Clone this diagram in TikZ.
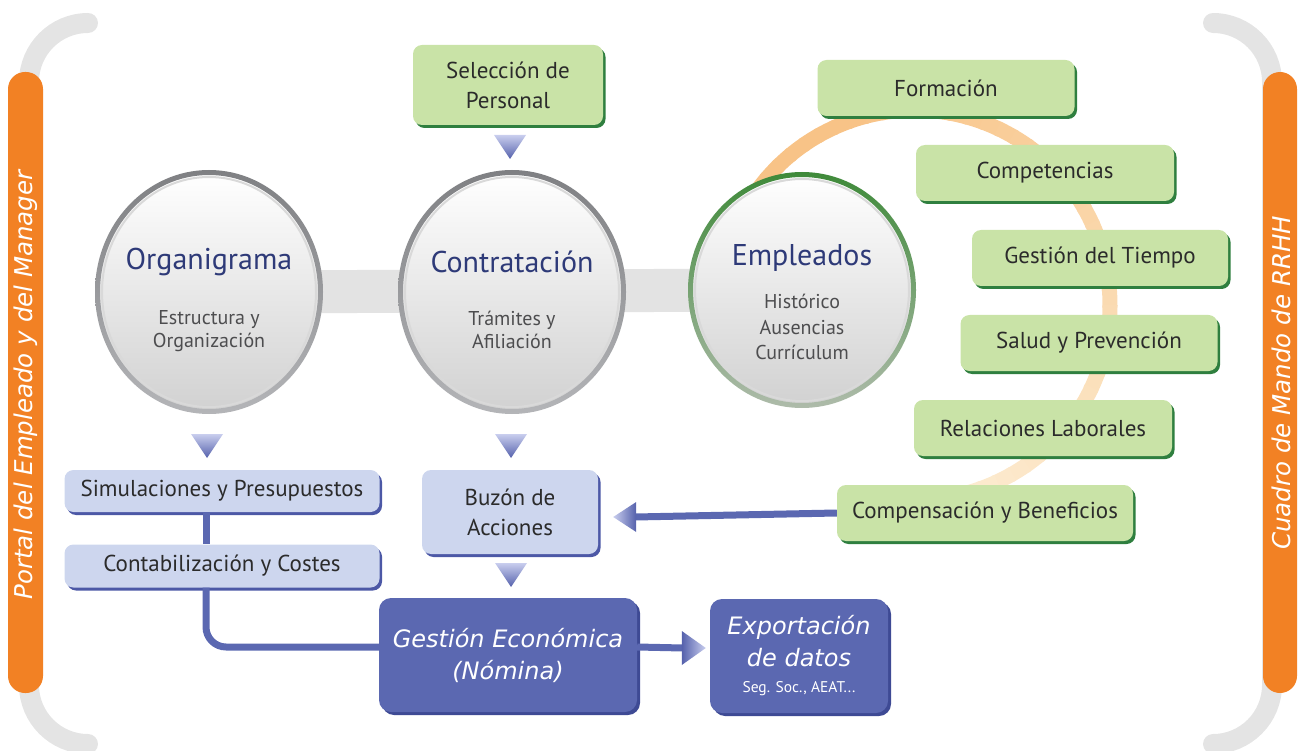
\documentclass[tikz,border=0pt]{standalone}
\usepackage{fontspec}
\setmainfont{PT Sans}
\newfontfamily\hand{DejaVu Sans}
\usetikzlibrary{shadows,calc}
\definecolor{orangeb}{HTML}{F28124}
\definecolor{grayarc}{HTML}{E4E4E4}
\definecolor{boxgreen}{HTML}{C9E3A7}
\definecolor{shgreen}{HTML}{2F7F3F}
\definecolor{boxblue}{HTML}{CDD6EE}
\definecolor{shblue}{HTML}{4C58A6}
\definecolor{darkblue}{HTML}{5B68B1}
\definecolor{shdark}{HTML}{3E4A94}
\definecolor{navy}{HTML}{2E3A78}
\definecolor{txt}{HTML}{2B2B2B}
\definecolor{subc}{HTML}{4D4D4F}
\definecolor{ringA}{HTML}{7F8083}
\definecolor{ringB}{HTML}{B4B5B8}
\definecolor{greenA}{HTML}{3F8A3A}
\definecolor{greenB}{HTML}{AEBBAA}
\definecolor{arcA}{HTML}{F8C387}
\definecolor{arcB}{HTML}{FCEBD0}
\definecolor{triA}{HTML}{C9CEEE}
\definecolor{triB}{HTML}{5561AC}
\definecolor{barg}{HTML}{E3E3E3}
\tikzset{
  boxfont/.style={font=\fontsize{23}{30}\selectfont},
  gbox/.style={boxfont, rounded corners=9, fill=boxgreen, text=txt, align=center, inner sep=0pt,
    general shadow={fill=shgreen, shadow xshift=2.5pt, shadow yshift=-3pt}},
  bbox/.style={boxfont, rounded corners=9, fill=boxblue, text=txt, align=center, inner sep=0pt,
    general shadow={fill=shblue, shadow xshift=2.5pt, shadow yshift=-3pt}},
  dbox/.style={rounded corners=12, fill=darkblue, text=white, align=center, inner sep=0pt,
    general shadow={fill=shdark, shadow xshift=3pt, shadow yshift=-3pt}},
  conn/.style={darkblue, line width=7},
  ctitle/.style={text=navy, font=\fontsize{30}{32}\selectfont},
  csub/.style={text=subc, align=center, font=\fontsize{20}{23}\selectfont},
  sidetext/.style={rotate=90, text=white, font=\hand\itshape\fontsize{24.5}{26}\selectfont},
}
\begin{document}
\begin{tikzpicture}[x=1pt,y=-1pt]
\useasboundingbox (0,0) rectangle (1301,751);
% gray brackets
\draw[grayarc, line width=20, line cap=round] (88,23) arc[start angle=270, end angle=180, radius=59] -- (29,685) arc[start angle=180, end angle=90, radius=59];
\draw[grayarc, line width=20, line cap=round] (1213,23) arc[start angle=270, end angle=360, radius=59] -- (1272,685) arc[start angle=0, end angle=90, radius=59];
% orange bars
\fill[orangeb, rounded corners=17] (8,72) rectangle (43,693);
\fill[orangeb, rounded corners=17] (1263,72) rectangle (1297,693);
\node[sidetext] (lefttxt) at (26,385) {Portal del Empleado y del Manager};
\node[sidetext] (righttxt) at (1281,383) {Cuadro de Mando de RRHH};
% orange arc
\foreach \a in {205,210,...,435} {
  \pgfmathsetmacro\p{max(0,min(100,100-(\a-250)*0.55))}
  \draw[line width=15, color=arcA!\p!arcB] ([shift={(\a:195)}]915,305) arc[start angle=\a, end angle=\a+5.8, radius=195];
}
% circles (named anchors)
\coordinate (org) at (209,292);
\coordinate (con) at (512,292);
\coordinate (emp) at (802,290);
\draw[barg, line width=43] (org) -- (emp);
\foreach \c/\ra/\rb in {org/ringA/ringB, con/ringA/ringB} {
  \shade[top color=white, bottom color=black!18] (\c) ellipse [x radius=112, y radius=120];
  \shade[top color=\ra, bottom color=\rb, even odd rule] (\c) ellipse [x radius=114, y radius=122] (\c) ellipse [x radius=109, y radius=117];
  \draw[white!70!gray, line width=2] (\c) ellipse [x radius=107, y radius=115];
}
\shade[top color=white, bottom color=black!18] (emp) ellipse [x radius=112, y radius=116];
\shade[top color=greenA, bottom color=greenB, even odd rule] (emp) ellipse [x radius=114, y radius=118] (emp) ellipse [x radius=109, y radius=113];
\draw[white!70!gray, line width=2] (emp) ellipse [x radius=107, y radius=111];
\node[ctitle] (orgT) at (209,262) {Organigrama};
\node[csub] (orgS) at (209,331) {Estructura y\\Organización};
\node[ctitle] (conT) at (512,262) {Contratación};
\node[csub] (conS) at (512,330) {Trámites y\\Afiliación};
\node[ctitle] (empT) at (802,258) {Empleados};
\node[csub, font=\fontsize{20}{25.5}\selectfont] (empS) at (802,327) {Histórico\\Ausencias\\Currículum};
% green boxes
\node[gbox, minimum width=190, minimum height=80] (sel) at (508,85) {Selección de\\Personal};
\node[gbox, minimum width=257, minimum height=56] (form) at (946,88) {Formación};
\node[gbox, minimum width=258, minimum height=56] (compet) at (1045,173) {Competencias};
\node[gbox, minimum width=256, minimum height=56] (tiempo) at (1100,258) {Gestión del Tiempo};
\node[gbox, minimum width=257, minimum height=56] (salud) at (1089,343) {Salud y Prevención};
\node[gbox, minimum width=258, minimum height=56] (relac) at (1043,428) {Relaciones Laborales};
\node[gbox, minimum width=296, minimum height=56] (comp) at (985,513) {Compensación y Beneficios};
% blue boxes
\node[bbox, minimum width=315, minimum height=42] (simul) at (222,491) {Simulaciones y Presupuestos};
\node[bbox, minimum width=315, minimum height=43] (contab) at (222,566) {Contabilización y Costes};
\node[bbox, minimum width=176, minimum height=84] (buzon) at (510,512) {Buzón de\\Acciones};
\node[dbox, minimum width=258, minimum height=114, font=\hand\itshape\fontsize{24}{32}\selectfont] (ge) at (508,655) {Gestión Económica\\(Nómina)};
\node[dbox, minimum width=178, minimum height=114, font=\hand\itshape\fontsize{24}{32}\selectfont] (exp) at (799,656) {Exportación\\de datos\\[-6pt]\normalfont\fontsize{15.5}{18}\selectfont Seg. Soc., AEAT...};
% connectors
\draw[conn] ($(simul.south)+(-16,0)$) -- ($(contab.north)+(-16,0)$);
\draw[conn, rounded corners=20] ($(contab.south)+(-16,0)$) |- ($(ge.west)+(0,-8)$);
\draw[conn] (comp.west) -- ($(buzon.east)+(37,5)$);
\shade[left color=triA, right color=triB] ($(buzon.east)+(15,5)$) -- ($(buzon.east)+(38,-10)$) -- ($(buzon.east)+(38,20)$) -- cycle;
\draw[conn] ($(ge.east)+(0,-8)$) -- ($(exp.west)+(-27,-8)$);
\shade[left color=triB, right color=triA] ($(exp.west)+(-4,-8)$) -- ($(exp.west)+(-28,-25)$) -- ($(exp.west)+(-28,9)$) -- cycle;
% down triangles
\foreach \x/\y in {510/135, 207/434, 511/434, 511/563} {
  \shade[top color=triA, bottom color=triB] (\x-16,\y) -- (\x+16,\y) -- (\x,\y+24) -- cycle;
}
\end{tikzpicture}
\end{document}
